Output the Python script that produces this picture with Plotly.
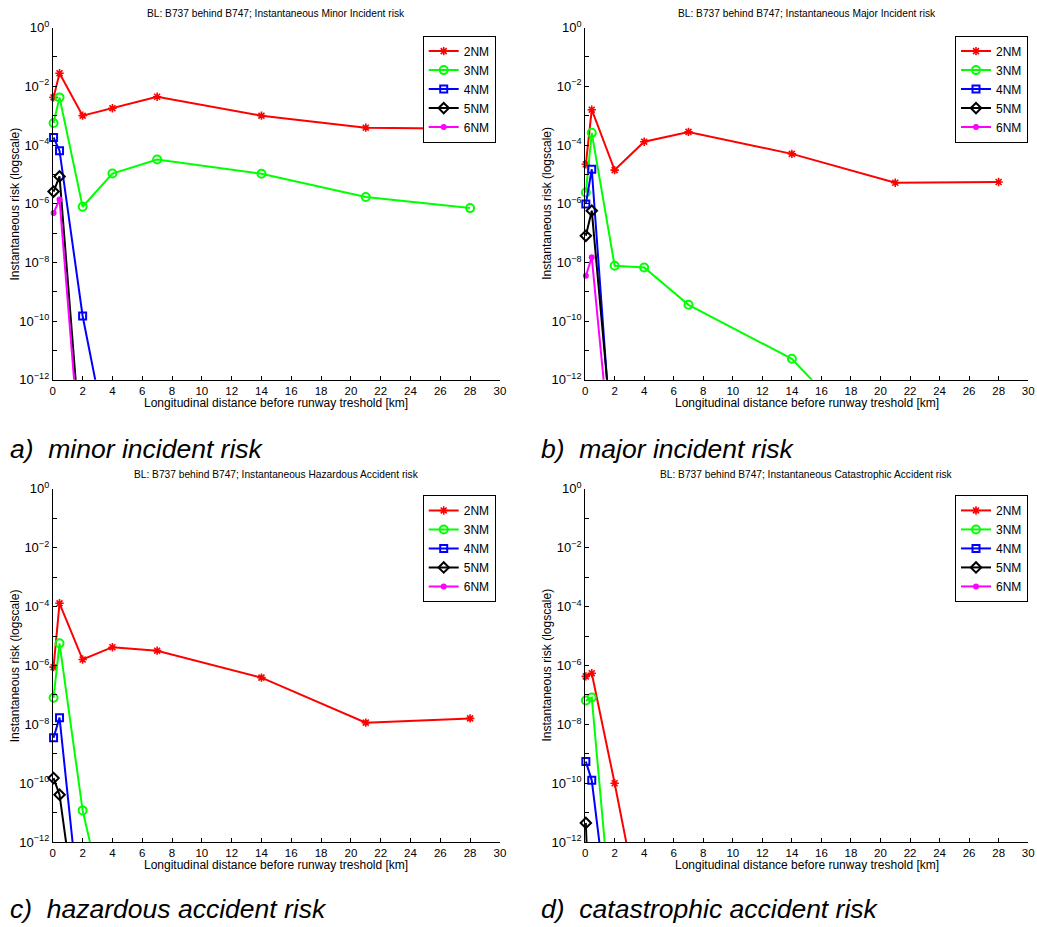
import plotly.graph_objects as go

# Distance before runway threshold [km] at which the risk was evaluated
x_km = [0.05, 0.45, 2, 4, 7, 14, 21, 28]

series_names = ["2NM", "3NM", "4NM", "5NM", "6NM"]

# a) Minor incident risk
minor_2nm = [4.2e-3, 2.8e-2, 1.0e-3, 1.8e-3, 4.4e-3, 1.0e-3, 3.9e-4, 3.6e-4]
minor_3nm = [5.6e-4, 4.2e-3, 7.9e-7, 1.07e-5, 3.2e-5, 1.05e-5, 1.7e-6, 7.1e-7]
minor_4nm = [1.8e-4, 6.4e-5, 1.5e-10, 1.1e-15]
minor_5nm = [2.6e-6, 8.5e-6, 1.0e-15]
minor_6nm = [4.8e-7, 1.4e-6, 2.5e-16]

# b) Major incident risk
major_2nm = [2.2e-5, 1.6e-3, 1.4e-5, 1.3e-4, 2.8e-4, 5.0e-5, 5.2e-6, 5.5e-6]
major_3nm = [2.4e-6, 2.6e-4, 7.7e-9, 6.7e-9, 3.6e-10, 5.2e-12, 1.0e-15]
major_4nm = [9.7e-7, 1.5e-5, 2.5e-16]
major_5nm = [8.1e-8, 5.8e-7, 1.3e-15]
major_6nm = [3.5e-9, 1.5e-8, 1.3e-16]

# c) Hazardous accident risk (6NM stays below the plotted range)
hazardous_2nm = [8.8e-7, 1.3e-4, 1.6e-6, 4.2e-6, 3.2e-6, 3.9e-7, 1.15e-8, 1.6e-8]
hazardous_3nm = [8.0e-8, 5.7e-6, 1.2e-11, 5.0e-16]
hazardous_4nm = [3.5e-9, 1.7e-8, 5.5e-16]
hazardous_5nm = [1.5e-10, 4.1e-11, 8.0e-17]
hazardous_6nm = [None]

# d) Catastrophic accident risk (6NM stays below the plotted range)
catastrophic_2nm = [4.3e-7, 5.5e-7, 1.0e-10, 8.0e-16]
catastrophic_3nm = [6.5e-8, 8.2e-8, 1.6e-16]
catastrophic_4nm = [5.5e-10, 1.26e-10, 6.0e-17]
catastrophic_5nm = [4.5e-12, 5.0e-18]
catastrophic_6nm = [None]

panel_titles = [
    "BL: B737 behind B747; Instantaneous Minor Incident risk",
    "BL: B737 behind B747; Instantaneous Major Incident risk",
    "BL: B737 behind B747; Instantaneous Hazardous Accident risk",
    "BL: B737 behind B747; Instantaneous Catastrophic Accident risk",
]
panel_captions = [
    "a)\u00a0\u00a0minor incident risk",
    "b)\u00a0\u00a0major incident risk",
    "c)\u00a0\u00a0hazardous accident risk",
    "d)\u00a0\u00a0catastrophic accident risk",
]
panels = [
    [minor_2nm, minor_3nm, minor_4nm, minor_5nm, minor_6nm],
    [major_2nm, major_3nm, major_4nm, major_5nm, major_6nm],
    [hazardous_2nm, hazardous_3nm, hazardous_4nm, hazardous_5nm, hazardous_6nm],
    [catastrophic_2nm, catastrophic_3nm, catastrophic_4nm, catastrophic_5nm, catastrophic_6nm],
]

x_ticks = list(range(0, 31, 2))
y_exponents = list(range(-12, 1))
x_title = "Longitudinal distance before runway treshold [km]"
y_title = "Instantaneous risk (logscale)"

FONT = "Liberation Sans, Arial, Helvetica, sans-serif"
# A little extra width so the last tick label of the right-hand panels fits
W, H = 1046, 927

# Page-to-figure calibration (page offset and scale of the rendered figure)
OFF_X, OFF_Y = 2.3, 8.4
SC_X, SC_Y = 0.989, 0.981

line_colors = ["#ff0000", "#00ff00", "#0000ff", "#000000", "#ff00ff"]
marker_styles = [
    dict(symbol="asterisk-open", size=7, line=dict(width=1.6, color="#ff0000")),
    dict(symbol="circle-open", size=8, line=dict(width=2, color="#00ff00")),
    dict(symbol="square-open", size=7, line=dict(width=2, color="#0000ff")),
    dict(symbol="diamond-open", size=8, line=dict(width=2, color="#000000")),
    dict(symbol="circle", size=6, color="#ff00ff", line=dict(width=0)),
]

# Plot-area boxes in page pixels: (left, right, top, bottom)
boxes = [
    (52, 498, 27, 379),
    (583, 1025, 27, 379),
    (52, 498, 488, 841),
    (583, 1025, 488, 841),
]
legend_pos = [(421, 35), (952, 35), (421, 494), (952, 494)]
caption_pos = [(7, 448), (537, 448), (7, 908), (537, 908)]
title_y = [13, 13, 474, 474]


def px_x(p):
    return min(1.0, max(0.0, (p - OFF_X) / SC_X / W))


def px_y(p):
    return min(1.0, max(0.0, 1 - (p - OFF_Y) / SC_Y / H))


fig = go.Figure()
annotations = []
layout_axes = {}

for i, (values_list, box) in enumerate(zip(panels, boxes)):
    n = "" if i == 0 else str(i + 1)
    xref = "x" + n
    yref = "y" + n
    legend_id = "legend" + n
    for name, vals, col, mk in zip(series_names, values_list, line_colors, marker_styles):
        fig.add_trace(go.Scatter(
            x=x_km[:len(vals)], y=vals, name=name, mode="lines+markers",
            line=dict(color=col, width=2), marker=mk,
            xaxis=xref, yaxis=yref, legend=legend_id, cliponaxis=False,
        ))
    left, right, top, bottom = box
    layout_axes["xaxis" + n] = dict(
        domain=[px_x(left), px_x(right)], anchor=yref, range=[0, 30],
        tickvals=x_ticks, ticks="inside", ticklen=4, tickcolor="black",
        showline=True, linecolor="black", linewidth=1, showgrid=False,
        zeroline=False, tickfont=dict(size=11.5, color="black", family=FONT),
    )
    ticktext = [
        ("10<sup>%s</sup>" % (str(e).replace("-", "\u2212")) if e % 2 == 0 else "")
        for e in y_exponents
    ]
    layout_axes["yaxis" + n] = dict(
        domain=[px_y(bottom), px_y(top)], anchor=xref, type="log",
        range=[-12, 0], tickvals=[10.0 ** e for e in y_exponents], ticktext=ticktext,
        ticks="inside", ticklen=4, tickcolor="black",
        showline=True, linecolor="black", linewidth=1, showgrid=False,
        zeroline=False, tickfont=dict(size=13, color="black", family=FONT),
    )
    lx, ly = legend_pos[i]
    layout_axes[legend_id] = dict(
        x=px_x(lx), y=px_y(ly), xanchor="left", yanchor="top",
        bordercolor="black", borderwidth=1, bgcolor="white",
        font=dict(size=12, color="black", family=FONT),
        tracegroupgap=0, itemwidth=30,
    )
    annotations.append(dict(
        x=px_x((left + right) / 2), y=px_y(title_y[i]), xref="paper", yref="paper",
        text=panel_titles[i], showarrow=False, xanchor="center", yanchor="middle",
        font=dict(size=10.2, color="black", family=FONT),
    ))
    annotations.append(dict(
        x=px_x((left + right) / 2), y=px_y(bottom + 23), xref="paper", yref="paper",
        text=x_title, showarrow=False, xanchor="center", yanchor="middle",
        font=dict(size=12, color="black", family=FONT),
    ))
    annotations.append(dict(
        x=px_x(left - 38), y=px_y((top + bottom) / 2), xref="paper", yref="paper",
        text=y_title, showarrow=False, xanchor="center", yanchor="middle", textangle=-90,
        font=dict(size=12, color="black", family=FONT),
    ))
    cx, cy = caption_pos[i]
    annotations.append(dict(
        x=px_x(cx), y=px_y(cy), xref="paper", yref="paper",
        text="<i>%s</i>" % panel_captions[i], showarrow=False,
        xanchor="left", yanchor="middle",
        font=dict(size=26.5, color="black", family=FONT),
    ))

fig.update_layout(
    width=W, height=H, margin=dict(l=0, r=0, t=0, b=0),
    paper_bgcolor="white", plot_bgcolor="white",
    font=dict(family=FONT, color="black"),
    annotations=annotations,
    **layout_axes,
)

fig.write_html("out.html")
